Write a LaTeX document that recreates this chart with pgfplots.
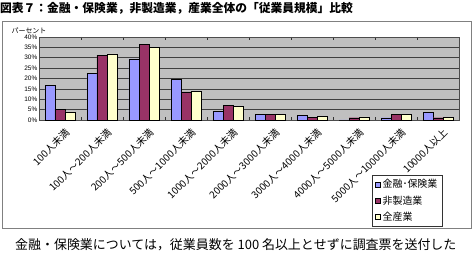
\documentclass[border=0pt]{standalone}
\usepackage{pgfplots}
\pgfplotsset{compat=1.18}
\usepackage{fontspec}
\setmainfont{Noto Sans CJK JP}
\newfontfamily\arial{Liberation Sans}
\definecolor{cblue}{HTML}{9999FF}
\definecolor{cred}{HTML}{993366}
\definecolor{cyel}{HTML}{FFFFCC}
\definecolor{cbg}{HTML}{C0C0C0}
\begin{document}
\begin{tikzpicture}
\useasboundingbox (0,0) rectangle (473bp,255bp);
\fill[white] (0,0) rectangle (473bp,255bp);
\node[anchor=west,inner sep=0pt,font=\fontsize{11.8}{13}\selectfont\bfseries] at (0bp,247bp) {図表７：金融・保険業，非製造業，産業全体の「従業員規模」比較};
\draw[gray,line width=0.8bp] (2bp,27bp) rectangle (471bp,234bp);
\node[anchor=west,inner sep=0pt,font=\fontsize{13}{15}\selectfont] at (15bp,10bp) {金融・保険業については，従業員数を 100 名以上とせずに調査票を送付した};
\node[inner sep=0pt,font=\fontsize{7}{8}\selectfont] at (29bp,224bp) {パーセント};
\begin{axis}[
  at={(39bp,135bp)}, anchor=south west,
  scale only axis, width=420bp, height=83bp,
  ymin=0, ymax=40, xmin=-0.5, xmax=9.5,
  ybar=0pt, bar width=10bp,
  axis background/.style={fill=cbg},
  axis line style={black!70},
  ytick={0,5,...,40},
  yticklabels={0\%,5\%,10\%,15\%,20\%,25\%,30\%,35\%,40\%},
  yticklabel style={font=\arial\fontsize{6.5}{7}\selectfont, inner sep=1.5pt},
  ytick style={draw=none},
  ymajorgrids, major grid style={black!75, line width=0.5bp},
  xtick=data,
  xticklabels={100人未満,100人～200人未満,200人～500人未満,500人～1000人未満,1000人～2000人未満,2000人～3000人未満,3000人～4000人未満,4000人～5000人未満,5000人～10000人未満,10000人以上},
  xticklabel style={rotate=45, anchor=north east, font=\fontsize{10}{11}\selectfont, inner sep=0pt, yshift=-8bp, xshift=-2bp},
  major x tick style={draw=none},
  minor xtick={0.5,1.5,...,8.5},
  minor x tick style={black!80, line width=0.5bp},
  minor tick length=3bp,
  tick align=inside,
  legend style={at={(rel axis cs:0.793,-0.663)}, anchor=north west, draw=black!80, line width=0.5bp,
    font=\fontsize{10}{12}\selectfont, row sep=2.5bp, inner xsep=3bp, inner ysep=2bp,
    /tikz/every even column/.append style={column sep=2pt}},
  legend cell align=left,
  legend image code/.code={\draw[#1,draw=black,line width=0.3bp] (0bp,-2.5bp) rectangle (5bp,2.5bp);},
  every axis plot/.append style={draw=black, line width=0.4bp},
  clip=false,
]
\addplot[fill=cblue] coordinates {(0,16.8) (1,22.6) (2,29.4) (3,19.7) (4,4.2) (5,2.8) (6,2.1) (7,0) (8,1.1) (9,3.7)};
\addplot[fill=cred] coordinates {(0,5.2) (1,31.1) (2,36.6) (3,13.5) (4,7.1) (5,2.8) (6,1.3) (7,1.1) (8,2.6) (9,1.1)};
\addplot[fill=cyel] coordinates {(0,3.9) (1,31.9) (2,35.0) (3,13.9) (4,6.5) (5,2.6) (6,1.9) (7,1.5) (8,2.7) (9,1.3)};
\legend{金融･保険業,非製造業,全産業}
\end{axis}
\end{tikzpicture}
\end{document}
